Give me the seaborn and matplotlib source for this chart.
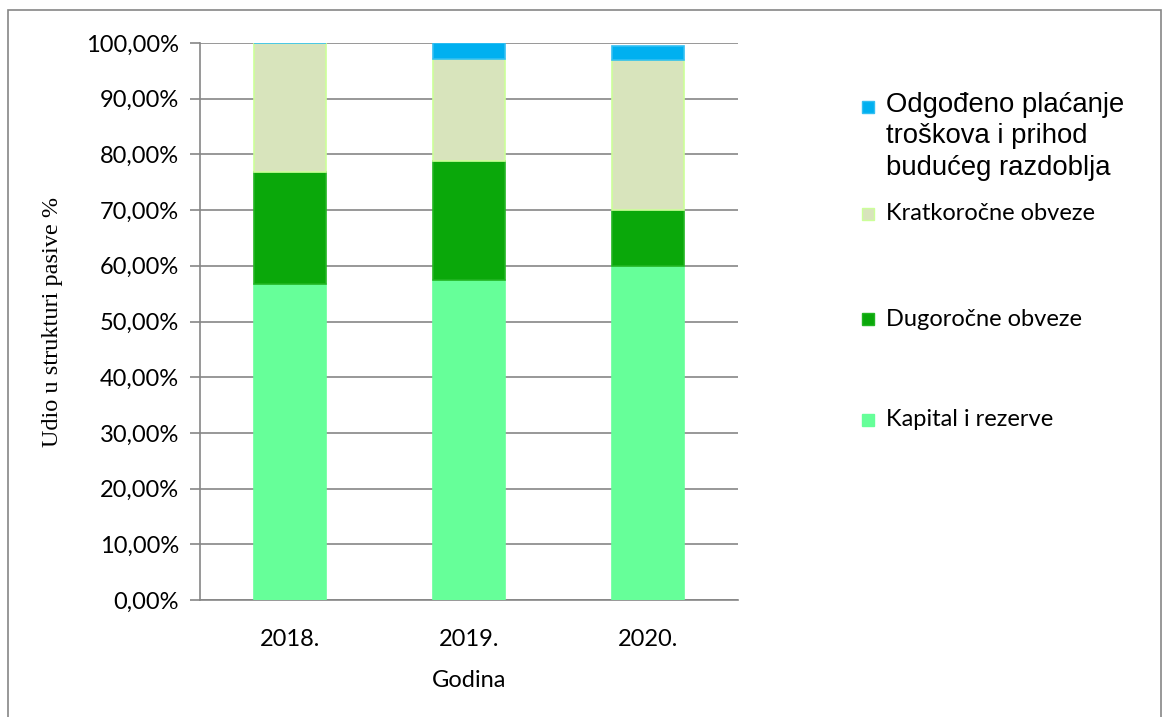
import numpy as np
import matplotlib
matplotlib.use("Agg")
import matplotlib.pyplot as plt
import seaborn as sns
from matplotlib.patches import Rectangle
from matplotlib.ticker import FuncFormatter, MultipleLocator

# podaci (udio u strukturi pasive, %)
godine = ["2018.", "2019.", "2020."]
kapital = [56.8, 57.4, 60.0]
dugorocne = [20.0, 21.4, 10.0]
kratkorocne = [23.2, 18.3, 26.9]
odgodeno = [0.0, 2.9, 2.6]

serije = ["Kapital i rezerve", "Dugoročne obveze", "Kratkoročne obveze",
          "Odgođeno plaćanje\ntroškova i prihod\nbudućeg razdoblja"]
vrijednosti = [kapital, dugorocne, kratkorocne, odgodeno]
boje = ["#66FF99", "#0AA80A", "#D8E4BC", "#00B0F0"]
rubovi = ["#66FF99", "#22B522", "#CCFF99", "#33BFF2"]

sns.set_style("white")
plt.rcParams["font.family"] = ["Lato", "DejaVu Sans"]
plt.rcParams["text.color"] = "black"
plt.rcParams["axes.labelcolor"] = "black"
plt.rcParams["xtick.color"] = "black"
plt.rcParams["ytick.color"] = "black"

W, H = 1169, 717
fig = plt.figure(figsize=(W / 100, H / 100), dpi=100)
ax = fig.add_axes([200 / W, 1 - 600 / H, (738 - 200) / W, (600 - 43) / H])

# složeni stupci
dno = np.zeros(len(godine))
for naziv, vals, c, ec in zip(serije, vrijednosti, boje, rubovi):
    sns.barplot(x=godine, y=vals, bottom=dno, color=c, width=0.4,
                edgecolor=ec, linewidth=1.2, saturation=1, ax=ax, zorder=3)
    dno = dno + np.array(vals)

ax.set_ylim(0, 100)
ax.set_xlim(-0.5, 2.5)
ax.yaxis.set_major_locator(MultipleLocator(10))
ax.yaxis.set_major_formatter(FuncFormatter(lambda v, p: f"{v:.2f}%".replace(".", ",")))
ax.grid(axis="y", color="#868686", linewidth=1.2, zorder=0)
ax.set_axisbelow(True)

for s in ["top", "right"]:
    ax.spines[s].set_visible(False)
for s in ["left", "bottom"]:
    ax.spines[s].set_color("#868686")
    ax.spines[s].set_linewidth(1.2)

# x kvačice na granicama kategorija
ax.set_xticks([0, 1, 2])
ax.set_xticklabels(godine)
ax.set_xticks([-0.5, 0.5, 1.5, 2.5], minor=True)
ax.tick_params(axis="x", which="major", length=0, pad=21, labelsize=17)
ax.tick_params(axis="x", which="minor", length=7, color="#868686", width=1.2)
ax.tick_params(axis="y", length=7, color="#868686", labelcolor="black", width=1.2,
               pad=8, labelsize=17, left=True)

ax.set_xlabel("Godina", fontsize=17, labelpad=14)
ax.set_ylabel("Udio u strukturi pasive %", fontsize=17.5, family="Liberation Serif",
              labelpad=17)

# legenda (obrnuti redoslijed kao u Excelu)
leg_y = [107, 214, 319, 420]
leg_items = list(zip(serije, boje, rubovi))[::-1]
for (naziv, c, ec), yy in zip(leg_items, leg_y):
    fig.patches.append(Rectangle((862 / W, 1 - (yy + 6) / H), 12 / W, 12 / H,
                                 transform=fig.transFigure, facecolor=c,
                                 edgecolor=ec, linewidth=1))
    if naziv.startswith("Odgo"):
        fig.text(886 / W, 1 - (yy - 15) / H, naziv, fontsize=19.8,
                 family="Liberation Sans", va="top", ha="left", linespacing=1.27)
    else:
        fig.text(886 / W, 1 - yy / H, naziv, fontsize=17, va="center", ha="left")

# okvir grafikona
fig.patches.append(Rectangle((8 / W, -0.02), (1161 - 8) / W, (H - 10) / H + 0.02,
                             transform=fig.transFigure, fill=False,
                             edgecolor="#868686", linewidth=1.2))

fig.savefig("out.png", dpi=100)
